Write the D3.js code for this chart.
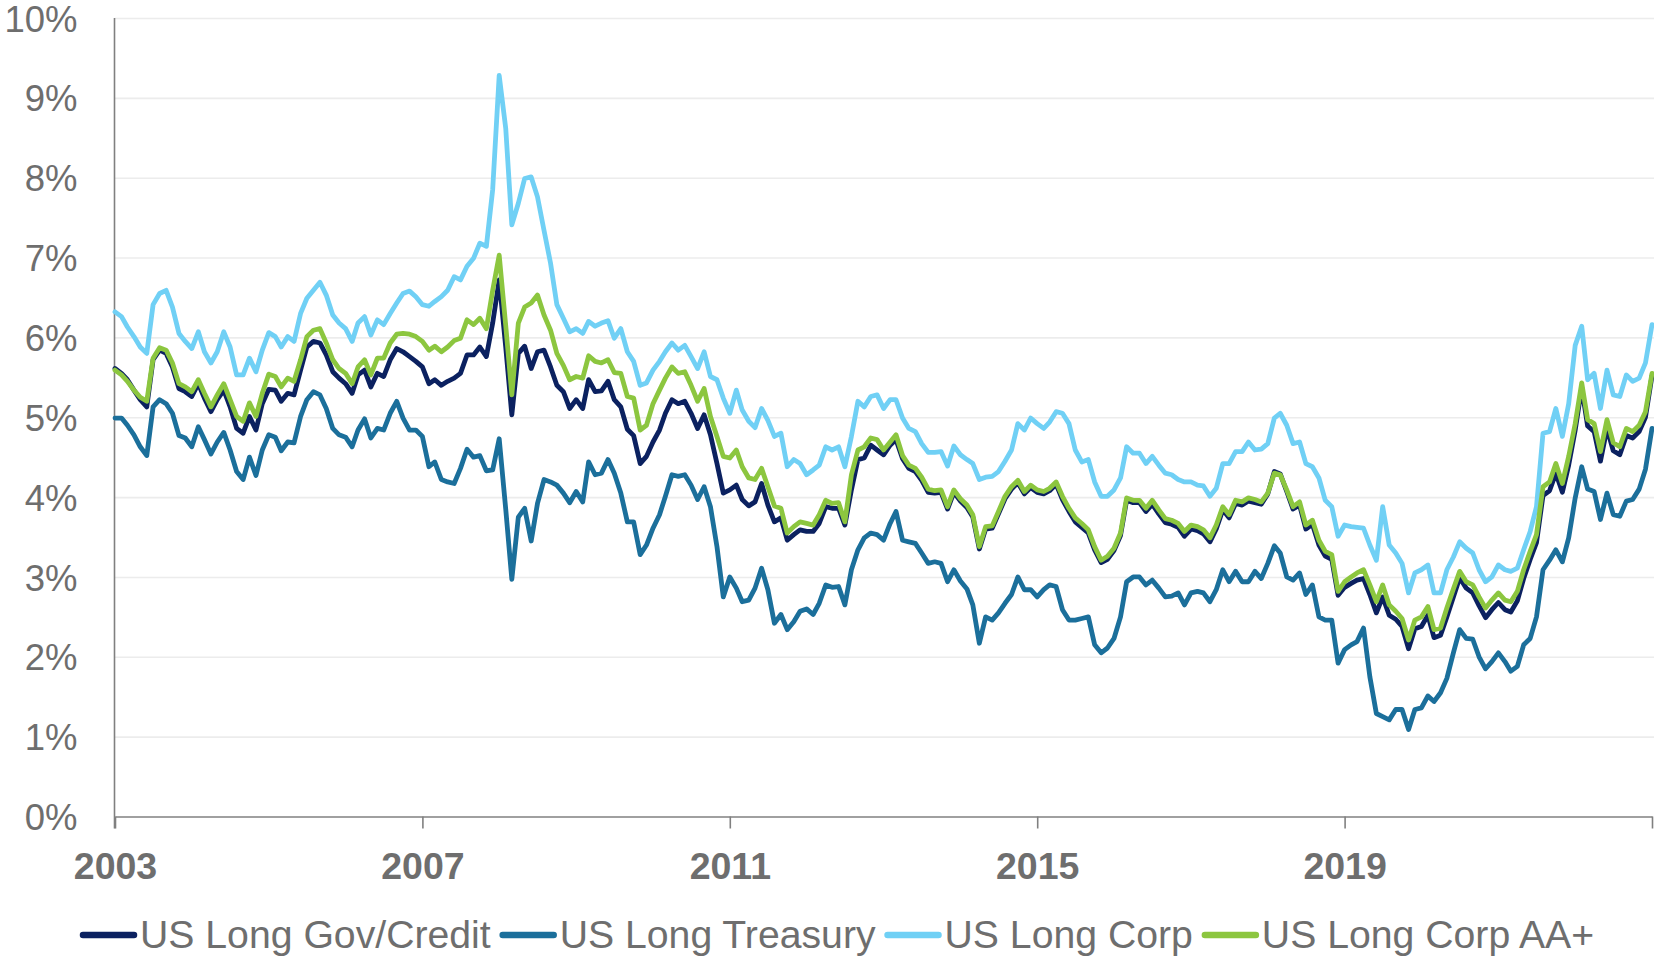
<!DOCTYPE html>
<html>
<head>
<meta charset="utf-8">
<script src="https://cdn.jsdelivr.net/npm/d3@7"></script>
<style>
  html, body { margin: 0; padding: 0; background: #fff; }
  svg { display: block; }
</style>
</head>
<body>
<svg id="chart" width="1654" height="956"></svg>
<script>
// Monthly yields (%), January 2003 through January 2023
const firstMonth = [2003, 0];

const seriesNames = ["US Long Gov/Credit", "US Long Treasury", "US Long Corp", "US Long Corp AA+"];

const govCredit = [
  5.61, 5.55, 5.47, 5.34, 5.22, 5.13, 5.72, 5.84, 5.80, 5.63,
  5.36, 5.32, 5.26, 5.42, 5.24, 5.07, 5.22, 5.34, 5.13, 4.86,
  4.80, 5.01, 4.84, 5.17, 5.35, 5.34, 5.20, 5.30, 5.28, 5.59,
  5.88, 5.95, 5.93, 5.78, 5.57, 5.49, 5.42, 5.30, 5.53, 5.59,
  5.38, 5.55, 5.51, 5.72, 5.86, 5.82, 5.76, 5.70, 5.63, 5.42,
  5.47, 5.40, 5.45, 5.49, 5.55, 5.78, 5.78, 5.88, 5.76, 6.18,
  6.72, 5.88, 5.03, 5.80, 5.89, 5.61, 5.82, 5.84, 5.63, 5.40,
  5.32, 5.11, 5.22, 5.11, 5.47, 5.32, 5.33, 5.45, 5.22, 5.13,
  4.85, 4.77, 4.42, 4.51, 4.69, 4.84, 5.05, 5.22, 5.17, 5.20,
  5.05, 4.86, 5.03, 4.78, 4.42, 4.05, 4.09, 4.15, 3.97, 3.89,
  3.94, 4.17, 3.90, 3.69, 3.74, 3.46, 3.53, 3.59, 3.57, 3.57,
  3.67, 3.88, 3.86, 3.86, 3.65, 4.09, 4.47, 4.49, 4.65, 4.59,
  4.53, 4.65, 4.72, 4.48, 4.36, 4.32, 4.21, 4.06, 4.05, 4.06,
  3.85, 4.06, 3.95, 3.87, 3.75, 3.35, 3.60, 3.61, 3.79, 3.98,
  4.10, 4.18, 4.04, 4.12, 4.06, 4.04, 4.08, 4.16, 3.97, 3.82,
  3.69, 3.62, 3.55, 3.34, 3.18, 3.22, 3.33, 3.52, 3.96, 3.93,
  3.93, 3.82, 3.91, 3.79, 3.68, 3.66, 3.62, 3.51, 3.60, 3.58,
  3.54, 3.44, 3.60, 3.84, 3.74, 3.92, 3.90, 3.95, 3.93, 3.91,
  4.04, 4.32, 4.29, 4.07, 3.85, 3.90, 3.60, 3.66, 3.40, 3.26,
  3.22, 2.77, 2.87, 2.92, 2.96, 2.98, 2.78, 2.55, 2.75, 2.52,
  2.47, 2.38, 2.10, 2.35, 2.38, 2.52, 2.24, 2.27, 2.50, 2.75,
  2.99, 2.86, 2.80, 2.64, 2.49, 2.59, 2.68, 2.59, 2.56, 2.70,
  2.98, 3.22, 3.43, 4.02, 4.08, 4.30, 4.06, 4.40, 4.84, 5.37,
  4.89, 4.82, 4.45, 4.86, 4.58, 4.53, 4.77, 4.74, 4.82, 5.00, 5.52
];

const treasury = [
  4.99, 4.99, 4.90, 4.78, 4.63, 4.52, 5.13, 5.22, 5.17, 5.05,
  4.77, 4.74, 4.63, 4.88, 4.72, 4.54, 4.69, 4.81, 4.59, 4.32,
  4.22, 4.50, 4.27, 4.59, 4.78, 4.75, 4.58, 4.69, 4.68, 5.01,
  5.22, 5.32, 5.28, 5.11, 4.86, 4.78, 4.75, 4.63, 4.84, 4.98,
  4.74, 4.86, 4.84, 5.05, 5.20, 4.99, 4.84, 4.84, 4.76, 4.38,
  4.44, 4.22, 4.19, 4.17, 4.36, 4.60, 4.50, 4.52, 4.33, 4.34,
  4.73, 3.85, 2.97, 3.75, 3.86, 3.45, 3.92, 4.22, 4.19, 4.15,
  4.05, 3.93, 4.07, 3.94, 4.44, 4.28, 4.30, 4.47, 4.30, 4.05,
  3.69, 3.69, 3.28, 3.40, 3.61, 3.78, 4.01, 4.28, 4.26, 4.28,
  4.15, 3.97, 4.13, 3.88, 3.38, 2.75, 3.00, 2.86, 2.69, 2.71,
  2.86, 3.11, 2.84, 2.42, 2.53, 2.34, 2.44, 2.57, 2.60, 2.53,
  2.67, 2.90, 2.87, 2.88, 2.65, 3.09, 3.34, 3.49, 3.55, 3.53,
  3.46, 3.67, 3.82, 3.46, 3.44, 3.42, 3.30, 3.17, 3.19, 3.17,
  2.94, 3.09, 2.95, 2.85, 2.65, 2.17, 2.50, 2.46, 2.55, 2.67,
  2.78, 3.00, 2.84, 2.84, 2.75, 2.84, 2.90, 2.88, 2.59, 2.46,
  2.46, 2.48, 2.50, 2.15, 2.05, 2.11, 2.23, 2.50, 2.94, 3.00,
  3.00, 2.90, 2.96, 2.86, 2.75, 2.76, 2.80, 2.65, 2.80, 2.82,
  2.80, 2.69, 2.84, 3.09, 2.94, 3.07, 2.94, 2.94, 3.07, 2.98,
  3.17, 3.39, 3.30, 3.00, 2.96, 3.05, 2.78, 2.90, 2.50, 2.46,
  2.46, 1.92, 2.09, 2.15, 2.19, 2.36, 1.75, 1.29, 1.25, 1.21,
  1.34, 1.34, 1.09, 1.34, 1.36, 1.51, 1.44, 1.55, 1.73, 2.05,
  2.34, 2.23, 2.22, 2.00, 1.85, 1.94, 2.05, 1.94, 1.82, 1.88,
  2.15, 2.23, 2.50, 3.09, 3.21, 3.34, 3.19, 3.49, 3.99, 4.38,
  4.10, 4.07, 3.72, 4.05, 3.78, 3.76, 3.95, 3.97, 4.10, 4.35, 4.86
];

const corp = [
  6.32, 6.26, 6.13, 6.01, 5.88, 5.80, 6.41, 6.55, 6.59, 6.38,
  6.05, 5.95, 5.86, 6.07, 5.82, 5.68, 5.82, 6.07, 5.88, 5.53,
  5.53, 5.74, 5.57, 5.84, 6.06, 6.01, 5.88, 6.01, 5.95, 6.30,
  6.49, 6.59, 6.69, 6.53, 6.28, 6.18, 6.11, 5.95, 6.18, 6.26,
  6.03, 6.22, 6.16, 6.30, 6.43, 6.55, 6.58, 6.51, 6.41, 6.39,
  6.45, 6.51, 6.59, 6.76, 6.72, 6.89, 6.99, 7.18, 7.14, 7.85,
  9.28, 8.62, 7.41, 7.68, 7.99, 8.01, 7.76, 7.34, 6.93, 6.41,
  6.24, 6.07, 6.11, 6.05, 6.20, 6.14, 6.18, 6.21, 5.99, 6.11,
  5.82, 5.70, 5.40, 5.43, 5.59, 5.70, 5.82, 5.93, 5.84, 5.90,
  5.76, 5.61, 5.82, 5.51, 5.47, 5.24, 5.05, 5.34, 5.09, 4.95,
  4.87, 5.11, 4.96, 4.76, 4.80, 4.38, 4.47, 4.42, 4.28, 4.34,
  4.40, 4.63, 4.59, 4.63, 4.38, 4.76, 5.20, 5.13, 5.26, 5.28,
  5.11, 5.22, 5.22, 4.99, 4.86, 4.82, 4.67, 4.56, 4.56, 4.57,
  4.39, 4.64, 4.53, 4.47, 4.42, 4.22, 4.25, 4.26, 4.32, 4.45,
  4.59, 4.92, 4.84, 4.99, 4.92, 4.86, 4.94, 5.07, 5.05, 4.92,
  4.59, 4.44, 4.47, 4.19, 4.01, 4.01, 4.09, 4.24, 4.63, 4.55,
  4.55, 4.42, 4.51, 4.40, 4.30, 4.28, 4.22, 4.19, 4.19, 4.15,
  4.14, 4.01, 4.11, 4.42, 4.42, 4.57, 4.57, 4.69, 4.59, 4.60,
  4.67, 4.99, 5.05, 4.90, 4.67, 4.69, 4.42, 4.38, 4.24, 3.96,
  3.88, 3.51, 3.65, 3.63, 3.62, 3.61, 3.40, 3.21, 3.88, 3.40,
  3.30, 3.17, 2.80, 3.05, 3.09, 3.15, 2.80, 2.80, 3.09, 3.25,
  3.44, 3.36, 3.30, 3.09, 2.94, 3.00, 3.15, 3.09, 3.07, 3.11,
  3.34, 3.57, 3.88, 4.80, 4.82, 5.11, 4.76, 5.17, 5.90, 6.14,
  5.47, 5.55, 5.11, 5.59, 5.28, 5.26, 5.53, 5.45, 5.49, 5.68, 6.16
];

const corpAAplus = [
  5.59, 5.53, 5.45, 5.34, 5.25, 5.20, 5.74, 5.87, 5.84, 5.68,
  5.42, 5.38, 5.32, 5.47, 5.30, 5.13, 5.28, 5.42, 5.22, 5.01,
  4.95, 5.18, 5.01, 5.30, 5.54, 5.51, 5.38, 5.49, 5.45, 5.72,
  6.01, 6.09, 6.11, 5.93, 5.72, 5.61, 5.55, 5.42, 5.63, 5.72,
  5.53, 5.74, 5.74, 5.93, 6.04, 6.05, 6.04, 6.01, 5.95, 5.84,
  5.89, 5.82, 5.88, 5.96, 5.99, 6.22, 6.16, 6.24, 6.11, 6.59,
  7.03, 6.15, 5.28, 6.18, 6.38, 6.43, 6.53, 6.28, 6.09, 5.80,
  5.65, 5.47, 5.51, 5.49, 5.77, 5.70, 5.68, 5.72, 5.56, 5.55,
  5.26, 5.24, 4.84, 4.90, 5.17, 5.34, 5.49, 5.63, 5.55, 5.57,
  5.40, 5.20, 5.36, 5.01, 4.76, 4.51, 4.49, 4.59, 4.38, 4.24,
  4.22, 4.36, 4.13, 3.89, 3.86, 3.55, 3.63, 3.69, 3.67, 3.65,
  3.78, 3.96, 3.92, 3.93, 3.69, 4.28, 4.59, 4.63, 4.74, 4.72,
  4.59, 4.69, 4.78, 4.52, 4.40, 4.36, 4.25, 4.10, 4.08, 4.09,
  3.88, 4.09, 3.98, 3.90, 3.78, 3.38, 3.63, 3.64, 3.82, 4.01,
  4.13, 4.21, 4.07, 4.15, 4.09, 4.07, 4.11, 4.19, 4.01, 3.86,
  3.74, 3.67, 3.59, 3.38, 3.21, 3.26, 3.36, 3.55, 3.99, 3.96,
  3.96, 3.86, 3.96, 3.84, 3.73, 3.71, 3.67, 3.57, 3.65, 3.63,
  3.59, 3.49, 3.65, 3.88, 3.78, 3.96, 3.94, 3.99, 3.97, 3.94,
  4.05, 4.30, 4.28, 4.09, 3.88, 3.94, 3.65, 3.71, 3.46, 3.32,
  3.28, 2.82, 2.94, 3.00, 3.05, 3.09, 2.90, 2.69, 2.90, 2.65,
  2.57, 2.48, 2.21, 2.46, 2.50, 2.63, 2.34, 2.36, 2.61, 2.85,
  3.07, 2.94, 2.90, 2.75, 2.61, 2.71, 2.80, 2.71, 2.69, 2.82,
  3.09, 3.32, 3.53, 4.13, 4.19, 4.42, 4.17, 4.51, 4.92, 5.43,
  4.97, 4.92, 4.57, 4.97, 4.68, 4.63, 4.86, 4.82, 4.90, 5.07, 5.55
];

const seriesColors = ["#0b2160", "#1b6f9b", "#70d0f5", "#8cc63f"];
const seriesValues = [govCredit, treasury, corp, corpAAplus];

const yTicks = [0, 1, 2, 3, 4, 5, 6, 7, 8, 9, 10];
const xTickYears = [2003, 2007, 2011, 2015, 2019, 2023];
const xTickLabels = ["2003", "2007", "2011", "2015", "2019", ""];

// ---- layout ----
const W = 1654, H = 956;
const plot = { left: 114.5, right: 1652, top: 18, bottom: 816.5 };
const axisGrey = "#808080";
const textGrey = "#6e6e6e";
const fontStack = "'Liberation Sans', Arial, sans-serif";

const svg = d3.select("#chart");

const months = d3.range(govCredit.length).map(i => new Date(firstMonth[0], firstMonth[1] + i, 1));

const x = d3.scaleTime()
  .domain([new Date(2003, 0, 1), new Date(2023, 0, 1)])
  .range([plot.left + 0.5, plot.right]);

const y = d3.scaleLinear()
  .domain([0, 10])
  .range([plot.bottom, plot.top]);

// horizontal gridlines
const grid = svg.append("g")
  .attr("transform", `translate(${plot.left},0)`)
  .call(d3.axisLeft(y).tickValues(yTicks.slice(1)).tickSize(-(W - plot.left)).tickFormat(""));
grid.select(".domain").remove();
grid.selectAll("line").attr("stroke", "#ececec").attr("stroke-width", 1.6);

// y tick labels
const yAxis = svg.append("g")
  .attr("transform", `translate(${plot.left},0)`)
  .call(d3.axisLeft(y).tickValues(yTicks).tickSize(0).tickPadding(37).tickFormat(d => d + "%"));
yAxis.select(".domain").remove();
yAxis.selectAll("text")
  .attr("fill", textGrey)
  .attr("font-family", fontStack)
  .attr("font-size", 36.5)
  .attr("dy", "0.36em");

// x axis with year ticks
const xAxis = svg.append("g")
  .attr("transform", `translate(0,${plot.bottom})`)
  .call(d3.axisBottom(x)
    .tickValues(xTickYears.map(yr => new Date(yr, 0, 1)))
    .tickSize(12)
    .tickSizeOuter(0)
    .tickPadding(24)
    .tickFormat((d, i) => xTickLabels[i]));
xAxis.select(".domain").attr("stroke", axisGrey).attr("stroke-width", 1.6);
xAxis.selectAll(".tick line").attr("stroke", axisGrey).attr("stroke-width", 1.6);
xAxis.selectAll("text")
  .attr("fill", textGrey)
  .attr("font-family", fontStack)
  .attr("font-weight", "bold")
  .attr("font-size", 37.5);

// vertical axis line
svg.append("line")
  .attr("x1", plot.left).attr("x2", plot.left)
  .attr("y1", y(10)).attr("y2", plot.bottom + 12)
  .attr("stroke", axisGrey).attr("stroke-width", 1.6);

// series lines
const line = d3.line()
  .x((d, i) => x(months[i]))
  .y(d => y(d));

svg.append("g")
  .selectAll("path")
  .data(seriesValues)
  .join("path")
  .attr("d", d => line(d))
  .attr("fill", "none")
  .attr("stroke", (d, i) => seriesColors[i])
  .attr("stroke-width", 4.8)
  .attr("stroke-linejoin", "round")
  .attr("stroke-linecap", "round");

// legend
const legend = svg.append("g").attr("transform", "translate(80,935)");
let cursor = 0;
seriesNames.forEach((name, i) => {
  const item = legend.append("g").attr("transform", `translate(${cursor},0)`);
  item.append("line")
    .attr("x1", 3).attr("x2", 54)
    .attr("y1", 0).attr("y2", 0)
    .attr("stroke", seriesColors[i])
    .attr("stroke-width", 6.5)
    .attr("stroke-linecap", "round");
  const t = item.append("text")
    .attr("x", 60)
    .attr("y", 12.5)
    .attr("fill", textGrey)
    .attr("font-family", fontStack)
    .attr("font-size", 39.2)
    .text(name);
  cursor += 60 + t.node().getComputedTextLength() + 9;
});
</script>
</body>
</html>
